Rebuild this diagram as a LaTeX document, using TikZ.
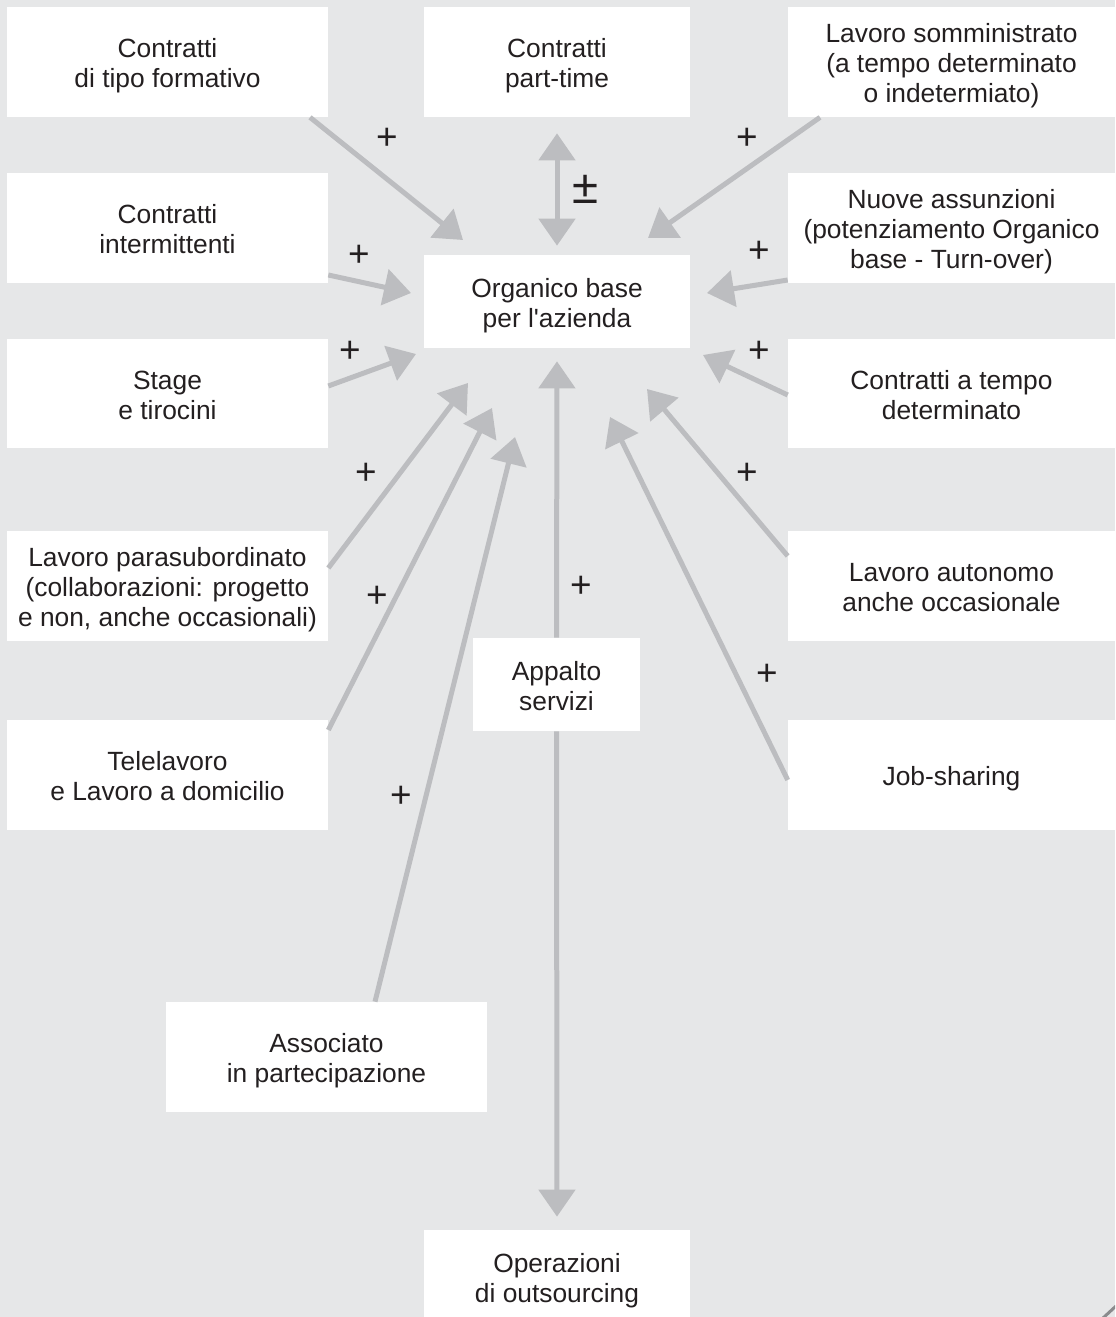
\documentclass[tikz,border=0pt]{standalone}
\usepackage{fontspec}
\setmainfont{Liberation Sans}[Ligatures=TeXOff]
\usetikzlibrary{arrows.meta,calc}
\definecolor{bg}{HTML}{E6E7E8}
\definecolor{arrc}{HTML}{BCBDC0}
\definecolor{txt}{HTML}{231F20}
\definecolor{edgec}{HTML}{8A8B8D}
\newcommand\tA{\rule{0pt}{16.2pt}}
\newcommand\tD{\rule[-4pt]{0pt}{4pt}}
\begin{document}
\begin{tikzpicture}[x=0.02cm,y=-0.02cm,
  box/.style={fill=white, draw=none, align=center, text=txt, font=\fontsize{15}{17.1}\selectfont, inner sep=0pt},
  lbox/.style={box, minimum width=6.42cm, minimum height=2.2cm},
  rbox/.style={box, minimum width=6.54cm, minimum height=2.2cm},
  mbox/.style={box, minimum width=5.32cm, minimum height=1.86cm},
  arr/.style={draw=arrc, line width=0.1cm, -{Triangle[width=0.72cm,length=0.54cm]}},
  arrb/.style={draw=arrc, line width=0.1cm, {Triangle[width=0.72cm,length=0.54cm]}-{Triangle[width=0.72cm,length=0.54cm]}},
  sign/.style={text=txt, font=\fontsize{21}{21}\selectfont, inner sep=0pt}]
\clip (0,0) rectangle (1115,1317);
\fill[bg] (0,0) rectangle (1115,1317);

% boxes
\node[lbox] (form) at (167.5,62) {\tA Contratti\\di tipo formativo\tD};
\node[mbox, minimum height=2.2cm] (pt) at (557,62) {\tA Contratti\\part-time\tD};
\node[rbox] (somm) at (951.5,62) {\tA Lavoro somministrato\\(a tempo determinato\\o indetermiato)\tD};
\node[lbox] (inter) at (167.5,228) {\tA Contratti\\intermittenti\tD};
\node[rbox] (nuove) at (951.5,228) {\tA Nuove assunzioni\\(potenziamento Organico\\base - Turn-over)\tD};
\node[mbox] (org) at (557,301.5) {\tA Organico base\\per l'azienda\tD};
\node[lbox] (stage) at (167.5,393.5) {\tA Stage\\e tirocini\tD};
\node[rbox] (tempo) at (951.5,393.5) {\tA Contratti a tempo\\determinato\tD};
\node[lbox] (para) at (167.5,586) {\tA Lavoro parasubordinato\\(collaborazioni: progetto\\e non, anche occasionali)\tD};
\node[rbox] (auto) at (951.5,586) {\tA Lavoro autonomo\\anche occasionale\tD};
\node[box, minimum width=3.34cm, minimum height=1.86cm] (app) at (556.5,684.5) {\tA Appalto\\servizi\tD};
\node[lbox] (tele) at (167.5,775) {\tA Telelavoro\\e Lavoro a domicilio\tD};
\node[rbox] (job) at (951.5,775) {\tA Job-sharing\tD};
\node[lbox] (assoc) at (326.5,1057) {\tA Associato\\in partecipazione\tD};
\node[mbox] (ops) at (557,1276.5) {\tA Operazioni\\di outsourcing\tD};

% arrow tips (free ends)
\coordinate (t1) at (463,240);
\coordinate (t2) at (648,238);
\coordinate (t3) at (411,293);
\coordinate (t4) at (707,293);
\coordinate (t5) at (416,354);
\coordinate (t6) at (703,355);
\coordinate (t7) at (468,383);
\coordinate (t8) at (647,389);
\coordinate (t9) at (492,408);
\coordinate (t10) at (610,417);
\coordinate (t11) at (515,437);

% connectors
\draw[arr] ([shift={(142.5,0)}]form.south) -- (t1);
\draw[arr] ([shift={(-131.5,0)}]somm.south) -- (t2);
\draw[arr] ([shift={(0,47)}]inter.east) -- (t3);
\draw[arr] ([shift={(0,52)}]nuove.west) -- (t4);
\draw[arr] ([shift={(0,-7.5)}]stage.east) -- (t5);
\draw[arr] ([shift={(0,1.5)}]tempo.west) -- (t6);
\draw[arr] ([shift={(0,-18)}]para.east) -- (t7);
\draw[arr] ([shift={(0,-30)}]auto.west) -- (t8);
\draw[arr] ([shift={(0,-45)}]tele.east) -- (t9);
\draw[arr] ([shift={(0,5)}]job.west) -- (t10);
\draw[arr] ([shift={(48.5,0)}]assoc.north) -- (t11);
\draw[arrb, shorten <=0.32cm, shorten >=0.18cm] (pt.south) -- (org.north);
\draw[arr, shorten >=0.26cm] (app.north) -- (org.south);
\draw[arr, shorten >=0.26cm] (app.south) -- (ops.north);

% signs
\node[sign] (p1) at (387,139) {+};
\node[sign, font=\fontsize{27}{27}\selectfont] (p2) at (586,189) {±};
\node[sign] (p3) at (747,139) {+};
\node[sign] (p4) at (359,256) {+};
\node[sign] (p5) at (759,252) {+};
\node[sign] (p6) at (350,352) {+};
\node[sign] (p7) at (759,352) {+};
\node[sign] (p8) at (366,474) {+};
\node[sign] (p9) at (747,474) {+};
\node[sign] (p10) at (377,597) {+};
\node[sign] (p11) at (581,587) {+};
\node[sign] (p12) at (767,675) {+};
\node[sign] (p13) at (401,797) {+};

% page corner edge
\draw[edgec, line width=0.06cm] (1103,1318) -- (1116,1306);
\end{tikzpicture}
\end{document}
